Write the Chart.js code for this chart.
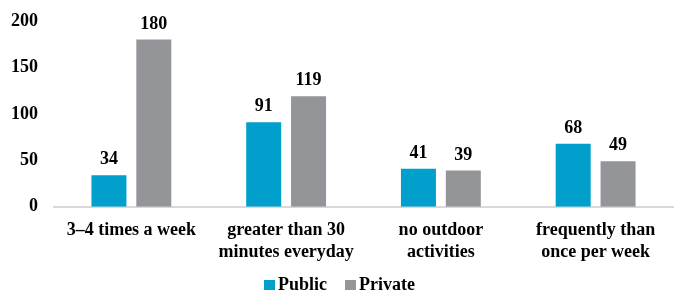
<!DOCTYPE html>
<html>
<head>
<meta charset="utf-8">
<script src="https://cdn.jsdelivr.net/npm/chart.js@4/dist/chart.umd.min.js"></script>
<style>
  html, body { margin: 0; padding: 0; background: #fff; }
  #wrap { width: 679px; height: 293px; }
</style>
</head>
<body>
<div id="wrap"><canvas id="chart"></canvas></div>
<script>
// data
const categories = [
  '3\u20134 times a week',
  ['greater than 30', 'minutes everyday'],
  ['no outdoor', 'activities'],
  ['frequently than', 'once per week']
];
const seriesNames = ['Public', 'Private'];
const publicValues = [34, 91, 41, 68];
const privateValues = [180, 119, 39, 49];
const yTicks = [0, 50, 100, 150, 200];
const colors = ['#009fcc', '#939598'];

const FONT = '"Liberation Serif", "Times New Roman", serif';

// numbers above bars
const valueLabels = {
  id: 'valueLabels',
  afterDatasetsDraw(chart) {
    const ctx = chart.ctx;
    ctx.save();
    ctx.font = 'bold 18px ' + FONT;
    ctx.fillStyle = '#000';
    ctx.textAlign = 'center';
    ctx.textBaseline = 'alphabetic';
    chart.data.datasets.forEach((ds, i) => {
      chart.getDatasetMeta(i).data.forEach((bar, j) => {
        ctx.fillText(ds.data[j], bar.x, bar.y - 11);
      });
    });
    ctx.restore();
  }
};

// legend drawn by hand so the box sits close to the text, like the original
const bottomLegend = {
  id: 'bottomLegend',
  afterDraw(chart) {
    const ctx = chart.ctx;
    ctx.save();
    ctx.font = 'bold 18px ' + FONT;
    ctx.textBaseline = 'alphabetic';
    const box = 11, gap = 3, spacing = 18;
    const widths = seriesNames.map(n => ctx.measureText(n).width);
    const total = widths.reduce((a, w) => a + box + gap + w, 0) + spacing * (seriesNames.length - 1);
    let x = (chart.width - total) / 2;
    const baseline = 290;
    seriesNames.forEach((name, i) => {
      ctx.fillStyle = colors[i];
      ctx.fillRect(x, baseline - 10, box, box - 1);
      ctx.fillStyle = '#000';
      ctx.fillText(name, x + box + gap, baseline);
      x += box + gap + widths[i] + spacing;
    });
    ctx.restore();
  }
};

new Chart(document.getElementById('chart'), {
  type: 'bar',
  data: {
    labels: categories,
    datasets: [
      { label: seriesNames[0], data: publicValues, backgroundColor: colors[0] },
      { label: seriesNames[1], data: privateValues, backgroundColor: colors[1] }
    ]
  },
  options: {
    responsive: true,
    maintainAspectRatio: false,
    animation: false,
    categoryPercentage: 0.58,
    barPercentage: 0.78,
    layout: { padding: { left: 10, right: 6, top: 21, bottom: 17 } },
    plugins: {
      legend: { display: false },
      tooltip: { enabled: false }
    },
    scales: {
      x: {
        grid: { display: false, drawTicks: false },
        border: { color: '#d9d9d9', width: 2 },
        ticks: {
          font: { family: FONT, size: 18, weight: 'bold', lineHeight: 1.2 },
          color: '#000',
          padding: 13,
          maxRotation: 0,
          autoSkip: false
        }
      },
      y: {
        min: 0,
        max: 200,
        afterBuildTicks: axis => { axis.ticks = yTicks.map(v => ({ value: v })); },
        afterFit: axis => { axis.width = 44; axis.paddingTop = 0; axis.paddingBottom = 0; },
        grid: { display: false, drawTicks: false },
        border: { display: false },
        ticks: {
          font: { family: FONT, size: 18, weight: 'bold' },
          color: '#000',
          padding: 16
        }
      }
    }
  },
  plugins: [valueLabels, bottomLegend]
});
</script>
</body>
</html>
